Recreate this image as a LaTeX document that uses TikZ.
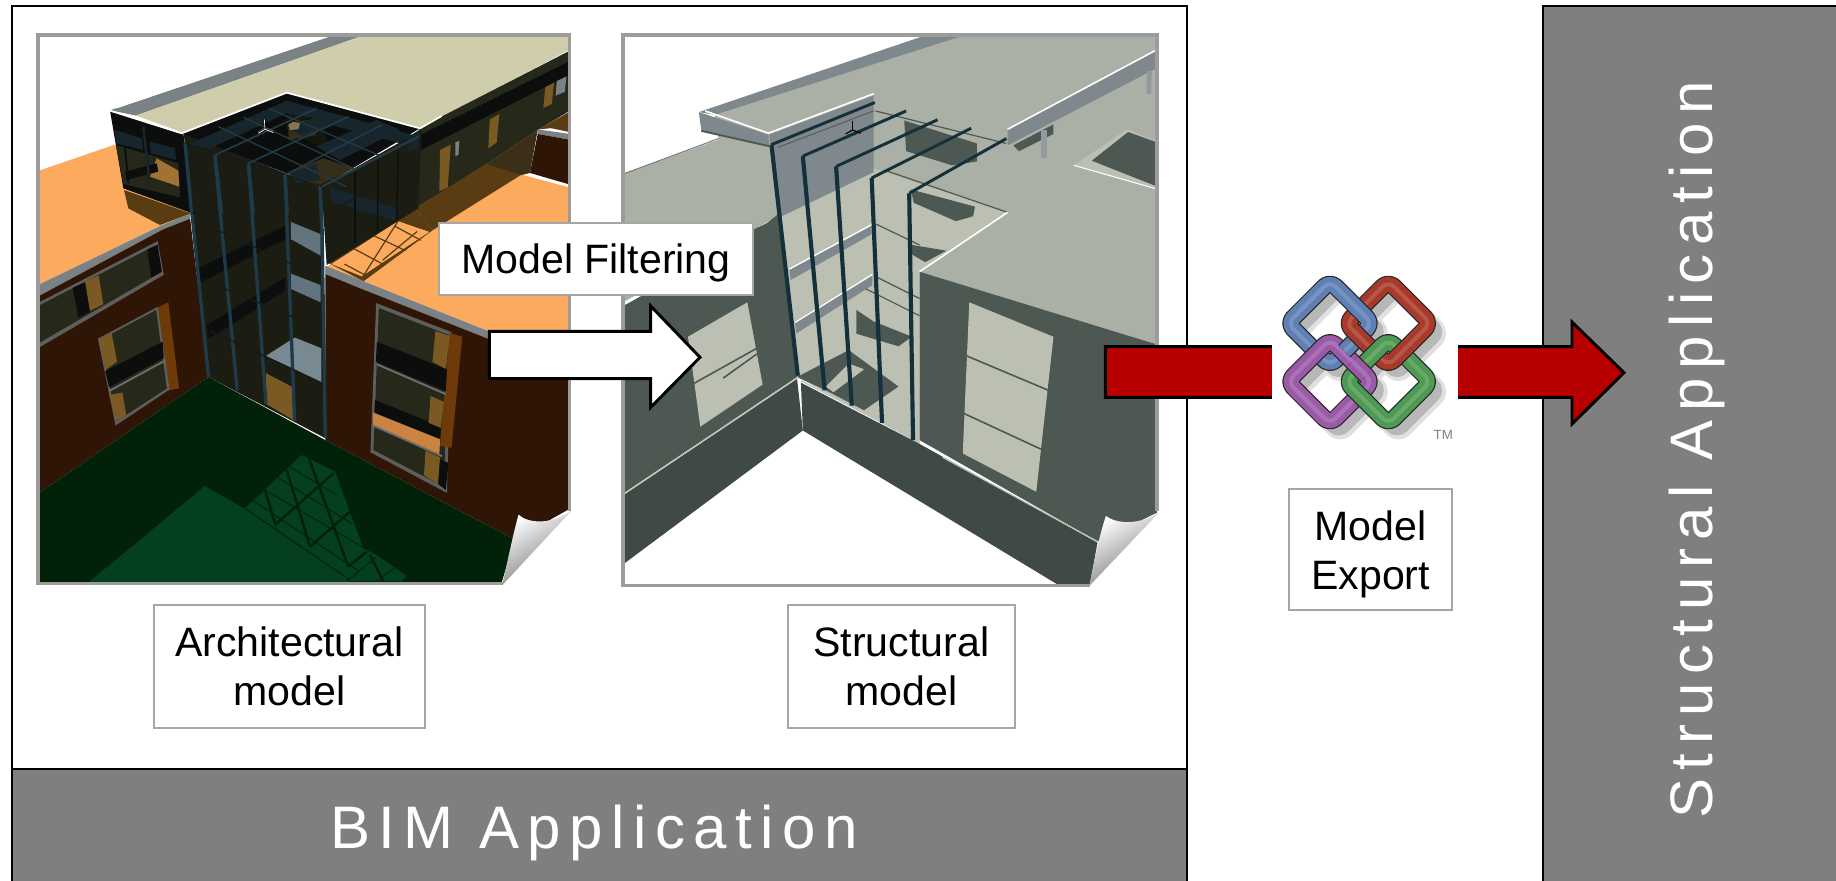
\documentclass[tikz,border=0pt]{standalone}
\usepackage{fontspec}
\setmainfont{Liberation Sans}
\newfontfamily\spacedfont[LetterSpace=14.2]{Liberation Sans}
\usetikzlibrary{calc}
\definecolor{bandgray}{HTML}{7F7F7F}
\definecolor{labelgray}{HTML}{A6A6A6}
\definecolor{picborder}{HTML}{9C9C9C}
\definecolor{arrowred}{HTML}{B80000}
% architectural
\definecolor{orangeroof}{HTML}{FBAA5E}
\definecolor{beige}{HTML}{CFCDAB}
\definecolor{brick}{HTML}{2F1506}
\definecolor{lawn}{HTML}{012208}
\definecolor{lawnlite}{HTML}{05401E}
\definecolor{parapet}{HTML}{7B8285}
\definecolor{glassdk}{HTML}{26281A}
\definecolor{tanp}{HTML}{7A5A22}
\definecolor{rust}{HTML}{6E3A08}
\definecolor{steelb}{HTML}{1F3A48}
\definecolor{blackg}{HTML}{0B0E0C}
\definecolor{shadowb}{HTML}{5A3C12}
\definecolor{tealg}{HTML}{16262C}
\definecolor{roofline}{HTML}{233A45}
% structural
\definecolor{slab}{HTML}{ABB0A6}
\definecolor{slablt}{HTML}{BBC0B2}
\definecolor{walls}{HTML}{4E5853}
\definecolor{wallsd}{HTML}{3F4A47}
\definecolor{beamg}{HTML}{7F888C}
\definecolor{colum}{HTML}{14303A}
% logo
\definecolor{ringblue}{HTML}{5F80B4}
\definecolor{ringred}{HTML}{A93A2A}
\definecolor{ringpurple}{HTML}{9B5AA8}
\definecolor{ringgreen}{HTML}{4F9A52}
\newcommand\polyf[2]{\fill[#1] plot coordinates {#2} -- cycle;}
\newcommand\ringp[2]{(#1,#2-127) -- (#1+127,#2) -- (#1,#2+127) -- (#1-127,#2) -- cycle}
\newcommand\ringd[3]{%
  \draw[line width=13pt,black!85,rounded corners=6pt,line join=round] \ringp{#1}{#2};
  \draw[line width=11.2pt,#3,rounded corners=6pt,line join=round] \ringp{#1}{#2};
  \draw[line width=3pt,#3!85!white,rounded corners=6pt,line join=round] \ringp{#1}{#2};}
\newcommand\ringfix[5]{\begin{scope}\clip (#4,#5-41) -- (#4+41,#5) -- (#4,#5+41) -- (#4-41,#5) -- cycle; \ringd{#1}{#2}{#3}\end{scope}}
\newcommand\lowered[1]{\raisebox{-3.5pt}[\height][\depth]{#1}}
\tikzset{
  lbl/.style={draw=labelgray,line width=1.5pt,fill=white,align=center,font=\fontsize{30.8}{36.75}\selectfont,inner sep=0pt},
  band/.style={fill=bandgray,draw=black,line width=1.5pt},
  bandtext/.style={text=white,font=\spacedfont\fontsize{45}{54}\selectfont,inner sep=0pt},
  picframe/.style={draw=picborder,line width=2.6pt,line join=miter},
  fatarrow/.style={draw=black,line width=2.2pt,line join=miter},
  curl/.style={top color=white,bottom color=black!55,shading angle=30},
  col/.style={draw=colum,line width=3.1pt},
  bm/.style={draw=colum,line width=2.2pt},
  grid/.style={draw=steelb,line width=2.5pt},
  gridr/.style={draw=roofline,line width=1.3pt},
  gridt/.style={draw=black!90,line width=.9pt},
  crop/.style={x=.25pt,y=-.25pt},
}
\begin{document}
\begin{tikzpicture}[x=1pt,y=1pt]
\useasboundingbox (0,0) rectangle (1377,-660.75);
\fill[white] (0,0) rectangle (1377,-660.75);
% BIM frame
\draw[black,line width=1.5pt] (9,-4.3) rectangle (890,-580);
\draw[band] (9,-577) rectangle (890,-662);
\node[bandtext] (bimapp) at (445.5,-624.5) {BIM Application};
% Structural band
\draw[band] (1157,-4.3) rectangle (1380,-662);
\node[bandtext,rotate=90] (structapp) at (1273,-337.5) {Structural Application};

% ===== Architectural picture
\begin{scope}[x=.287pt,y=-.287pt]
\begin{scope}
\clip (99,91) rectangle (1488,1525);
\polyf{white}{(99,91) (1488,91) (1488,1525) (99,1525)}
\polyf{orangeroof}{(99,447) (300,378) (480,378) (497,560) (420,590) (99,745)}
\polyf{parapet}{(99,745) (420,590) (497,558) (497,575) (425,600) (99,775)}
\polyf{brick}{(99,775) (425,600) (497,572) (545,985) (99,1290)}
% left wall windows
\polyf{picborder!60!black}{(99,792) (412,630) (428,718) (99,910)}
\polyf{glassdk}{(99,800) (405,642) (420,712) (99,898)}
\polyf{tanp}{(222,735) (258,720) (270,795) (235,812)}
\polyf{blackg}{(190,752) (222,738) (235,815) (205,830)}
\polyf{blackg}{(385,652) (412,640) (423,710) (395,725)}
\polyf{rust}{(410,805) (440,790) (468,1015) (440,1020)}
\polyf{picborder!60!black}{(256,885) (412,802) (443,1018) (302,1112)}
\polyf{glassdk}{(262,888) (408,810) (436,1015) (306,1100)}
\polyf{tanp}{(258,888) (292,872) (306,945) (278,965)}
\polyf{tanp}{(285,1032) (320,1026) (330,1085) (305,1100)}
\polyf{blackg}{(275,970) (425,893) (428,935) (285,1012)}
\draw[picborder!70!black,line width=1.4pt] (285,1022) -- (432,942);
% right roof
\polyf{orangeroof}{(850,700) (1270,430) (1370,458) (1488,490) (1488,862) (1275,865) (950,735)}
\polyf{parapet}{(850,695) (950,735) (1275,865) (1275,885) (950,757) (850,716)}
\polyf{brick}{(850,716) (950,757) (1275,885) (1488,862) (1488,1330) (1345,1410) (850,1150)}
% right wall window
\polyf{picborder!60!black}{(983,792) (1180,868) (1168,1288) (968,1182)}
\polyf{glassdk}{(990,805) (1172,875) (1160,1272) (976,1176)}
\polyf{rust}{(1175,870) (1208,880) (1180,1170) (1150,1165)}
\polyf{tanp}{(1138,865) (1175,878) (1165,965) (1130,945)}
\polyf{blackg}{(985,893) (1168,965) (1165,1022) (982,945)}
\draw[picborder!70!black,line width=1.4pt] (985,952) -- (1165,1030);
\polyf{blackg}{(980,1045) (1152,1115) (1150,1148) (978,1078)}
\polyf{tanp}{(1125,1035) (1160,1050) (1152,1118) (1120,1105)}
\polyf{orangeroof!65!rust}{(975,1078) (1150,1148) (1148,1190) (975,1110)}
\draw[picborder!70!black,line width=1.4pt] (975,1112) -- (1155,1192);
\polyf{tanp}{(1112,1178) (1150,1195) (1145,1265) (1108,1242)}
\polyf{blackg}{(1150,1200) (1172,1210) (1165,1280) (1145,1265)}
% lawn
\polyf{lawn}{(99,1290) (545,985) (850,1150) (1345,1410) (1310,1525) (99,1525)}
\polyf{lawnlite}{(228,1525) (535,1270) (640,1330) (920,1525)}
\end{scope}
% lawn lattice (crop of the lawn)
\begin{scope}[shift={(165pt,-330pt)},crop]
\clip (0,0) rectangle (600,424);
\polyf{lawnlite}{(75,205) (245,45) (345,95) (430,325) (470,345) (560,408) (545,424) (385,424)}
\draw[lawn,line width=.7pt] (75,205) -- (390,420) (100,182) -- (415,392) (135,150) -- (430,322) (165,108) -- (395,250) (205,78) -- (350,165) (470,350) -- (380,424) (520,385) -- (470,424);
\draw[lawn,line width=1.9pt] (135,150) -- (165,250) (200,90) -- (270,320) (265,50) -- (385,380) (450,345) -- (490,424) (165,255) -- (340,100) (270,320) -- (390,215) (385,380) -- (440,335);
\end{scope}
\begin{scope}
\clip (99,91) rectangle (1488,1525);
% upper block
\polyf{parapet}{(288,288) (860,96) (940,96) (355,302)}
\polyf{white}{(300,278) (845,96) (860,96) (305,283)}
\polyf{beige}{(355,302) (940,96) (1488,96) (1488,130) (1100,335) (750,243) (480,347)}
% right wing
\polyf{glassdk!60!shadowb}{(1270,430) (1405,340) (1385,452) (1360,458)}
\polyf{glassdk}{(1095,335) (1488,133) (1488,290) (1405,340) (1270,430) (1080,548)}
\polyf{blackg}{(1100,352) (1488,160) (1488,195) (1100,392)}
\polyf{tanp}{(1150,392) (1178,378) (1170,490) (1148,500)}
\polyf{tanp}{(1280,312) (1305,298) (1298,372) (1276,388)}
\polyf{tanp}{(1425,228) (1448,216) (1442,272) (1420,282)}
\polyf{parapet}{(1190,372) (1200,368) (1198,405) (1190,408)}
\polyf{parapet}{(1455,212) (1480,200) (1476,240) (1452,250)}
\polyf{shadowb}{(1408,338) (1488,292) (1488,345) (1440,335)}
\polyf{parapet}{(1405,338) (1488,350) (1488,365) (1405,350)}
\polyf{brick}{(1405,350) (1488,365) (1488,482) (1385,452)}
% roof shadow
\polyf{shadowb}{(1085,545) (1270,428) (1360,458) (1130,602)}
\polyf{shadowb}{(860,688) (1085,545) (1130,602) (950,735)}
\polyf{orangeroof}{(866,690) (1040,578) (1122,606) (945,722)}
\foreach \a/\b/\c/\d in {925/650/1000/690,975/615/1060/655,1030/590/1100/628,900/690/960/722,1040/578/950/720,1090/605/1000/680}
  \draw[shadowb,line width=.9pt] (\a,\b) -- (\c,\d);
\polyf{parapet}{(850,695) (950,735) (960,745) (850,716)}
% central atrium lower part
\polyf{glassdk!70!black}{(480,347) (840,490) (850,1145) (545,985)}
\polyf{steelb!70}{(760,580) (838,612) (838,668) (760,625)}
\polyf{steelb!70}{(760,715) (838,745) (838,790) (760,755)}
\polyf{blackg}{(520,700) (745,590) (745,625) (525,738)}
\polyf{blackg}{(540,850) (745,725) (745,760) (545,885)}
\polyf{steelb!60!white}{(695,930) (770,882) (840,910) (840,1000) (770,965)}
\polyf{tanp}{(695,975) (765,1012) (770,1100) (695,1055)}
\foreach \a/\b/\c/\d in {483/374/545/985,561/405/620/1020,649/427/695/1055,745/457/770/1100,840/488/850/1145}
  \draw[grid] (\a,\b) -- (\c,\d);
\draw[gridt] (510,449) -- (840,560) (510,575) -- (840,725) (530,730) -- (840,860) (550,865) -- (840,1000);
\end{scope}
% upper atrium (crop of the atrium)
\begin{scope}[shift={(75pt,-60pt)},crop]
% shadow under left block
\polyf{shadowb}{(72,330) (272,400) (180,435) (85,385)}
% left block
\polyf{blackg}{(30,92) (250,160) (282,402) (70,325)}
\polyf{tealg}{(45,150) (125,175) (130,210) (48,190)}
\polyf{tealg}{(150,185) (225,205) (228,240) (152,220)}
\polyf{glassdk}{(48,195) (235,250) (240,352) (70,312)}
\polyf{tanp!70!orangeroof}{(170,235) (235,272) (238,320) (150,290)}
\polyf{blackg}{(75,275) (170,250) (175,275) (80,300)}
\draw[blackg,line width=1.4pt] (75,200) -- (85,310) (140,215) -- (150,320);
\draw[tealg,line width=2pt] (130,140) -- (150,320);
% glass faces
\polyf{blackg}{(245,160) (560,38) (960,145) (665,320)}
\polyf{tealg}{(262,195) (560,62) (950,168) (900,190) (560,100) (330,205)}
\polyf{glassdk!55!black}{(560,100) (650,115) (700,220) (560,150)}
\polyf{glassdk!70!shadowb}{(565,130) (620,120) (650,165) (565,180)}
\polyf{tealg}{(560,140) (660,110) (720,130) (610,170)}
\polyf{tealg}{(650,200) (830,120) (900,150) (720,240)}
\polyf{glassdk!70!shadowb}{(560,280) (670,235) (760,265) (660,315)}
\polyf{tealg}{(570,280) (650,250) (660,300) (590,310)}
\polyf{glassdk!70!black}{(665,320) (965,150) (955,385) (680,555)}
\polyf{tealg}{(690,322) (895,385) (885,422) (695,365)}
\polyf{tealg}{(925,170) (958,150) (955,205) (925,215)}
\foreach \a/\b/\c/\d in {765/275/765/490,835/240/832/455,895/210/890/420}
  \draw[blackg,line width=.9pt] (\a,\b) -- (\c,\d);
\draw[gridt] (680,400) -- (950,255);
\draw[gridt] (255,190) -- (665,320) (290,275) -- (660,405);
\foreach \a/\b/\c/\d in {345/225/650/85,445/250/745/110,555/285/845/135}
  \draw[gridr] (\a,\b) -- (\c,\d);
\draw[gridr,line width=1.8pt] (665,320) -- (958,168);
\foreach \a/\b/\c/\d in {355/140/740/320,430/112/760/265,505/85/835/225}
  \draw[gridr,line width=1pt] (\a,\b) -- (\c,\d);
\draw[steelb,line width=2.5pt] (660,320) -- (664,420);
\draw[steelb,line width=2.5pt] (555,285) -- (562,400) (445,250) -- (460,400) (345,225) -- (365,400) (255,190) -- (275,400);
\draw[white,line width=1.3pt,line join=miter] (30,92) -- (245,160) -- (560,38) -- (960,145) -- (1025,108);
\draw[black,line width=1.5pt] (495,118) -- (497,150);
\draw[white,line width=.5pt] (493,118) -- (495,148) (475,160) -- (495,148) -- (520,158);
\draw[black!60,line width=.4pt] (475,155) -- (495,143) -- (520,153);
\polyf{tanp!60!picborder}{(565,135) (580,125) (600,130) (595,148) (570,150)}
\end{scope}
\begin{scope}[x=.287pt,y=-.287pt]
\draw[picframe] (1488,1335) -- (1488,91) -- (99.5,91) -- (99.5,1525) -- (1315,1525);
\fill[white] (1318,1545) -- (1500,1328) -- (1500,1545) -- cycle;
\shade[curl] (1355,1345) .. controls (1380,1368) and (1440,1372) .. (1493,1335) -- (1312,1530) .. controls (1330,1450) and (1340,1400) .. (1355,1345) -- cycle;
\end{scope}
\end{scope}

% ===== Structural picture
\begin{scope}[shift={(450pt,0pt)},x=.287pt,y=-.287pt]
\begin{scope}
\clip (60,92) rectangle (1455,1530);
\polyf{white}{(60,92) (1455,92) (1455,1530) (60,1530)}
\polyf{slab}{(60,455) (310,365) (300,300) (940,96) (1455,96) (1455,900) (835,710) (465,565) (60,790)}
\draw[black!55,line width=.7pt] (60,455) -- (310,362);
\polyf{walls}{(60,800) (400,612) (465,560) (515,985) (60,1290)}
\polyf{slablt}{(230,880) (385,790) (425,1005) (262,1115)}
\draw[walls,line width=1.2pt] (240,1005) -- (410,910) (322,988) -- (410,925);
\polyf{wallsd}{(60,1295) (515,990) (530,1125) (60,1475)}
\draw[slablt,line width=.9pt] (60,1292) -- (515,988);
% central bay
\polyf{slablt}{(465,565) (715,440) (1065,555) (835,710) (835,1160) (515,985)}
\polyf{beamg}{(445,375) (715,265) (715,450) (465,570)}
\polyf{walls}{(465,570) (400,600) (405,790) (430,1000) (515,985)}
\polyf{beamg}{(495,705) (710,590) (710,612) (498,732)}
\draw[white,line width=1pt] (495,703) -- (710,587) (510,843) -- (712,717);
\polyf{beamg}{(510,845) (712,720) (712,745) (512,872)}
\polyf{walls}{(795,315) (985,375) (985,422) (920,432) (800,395)}
\polyf{walls}{(812,495) (980,540) (975,565) (930,578) (820,530)}
\polyf{walls}{(815,640) (905,655) (850,685) (815,665)}
\polyf{walls}{(515,985) (650,915) (780,1010) (690,1072) (590,1020)}
\polyf{slablt}{(610,1025) (690,965) (650,950) (590,1010)}
\polyf{walls}{(670,810) (715,840) (815,880) (780,905) (670,872)}
\polyf{slablt}{(760,805) (790,810) (785,860) (760,850)}
\draw[walls,line width=.9pt] (720,290) -- (1062,375) (745,445) -- (1065,555) (720,585) -- (835,640) (715,720) -- (835,780) (695,755) -- (835,825);
\draw[white,line width=1.2pt] (1065,555) -- (835,710);
% right wall
\polyf{walls}{(835,710) (1455,900) (1455,1340) (1300,1415) (835,1150)}
\polyf{slablt}{(965,790) (1185,880) (1140,1285) (948,1185)}
\draw[walls,line width=1.2pt] (958,930) -- (1172,1020) (950,1080) -- (1155,1175);
\polyf{wallsd}{(525,1000) (835,1160) (1300,1418) (1280,1530) (1200,1530) (530,1125)}
\draw[slablt,line width=.9pt] (525,995) -- (835,1155) (895,1195) -- (1300,1415);
% parapet and overhang
\polyf{slab}{(278,292) (940,96) (715,245) (440,348)}
\polyf{beamg}{(258,293) (840,96) (940,96) (300,300)}
\polyf{beamg}{(258,293) (440,352) (442,380) (265,342)}
\draw[walls,line width=1.4pt] (265,342) -- (442,382);
\polyf{beamg}{(442,352) (715,250) (715,268) (445,378)}
\draw[white,line width=1.2pt] (275,290) -- (440,348) -- (715,245);
\draw[beamg!70!black,line width=.8pt] (465,385) -- (715,290);
% right beam
\polyf{beamg}{(1065,340) (1455,130) (1455,178) (1065,380)}
\draw[white,line width=1.2pt] (1065,338) -- (1455,130);
\fill[walls] (1080,380) -- (1185,325) -- (1185,350) -- (1095,395) -- cycle;
\draw[beamg!85!white,line width=4pt] (1160,340) -- (1160,412);
\draw[beamg!85!white,line width=3.5pt] (1436,185) -- (1434,245);
% right hole
\polyf{slablt}{(1238,432) (1378,338) (1455,370) (1455,494)}
\polyf{walls}{(1285,420) (1380,345) (1455,372) (1455,487)}
\draw[white,line width=.8pt] (1238,432) -- (1455,494);
% columns and beams
\foreach \a/\b/\c/\d in {448/378/517/982,530/408/587/1020,617/435/658/1060,710/465/737/1105,808/505/818/1150}
  \draw[col] (\a,\b) -- (\c,\d);
\foreach \a/\b/\c/\d in {448/378/718/268,530/408/800/290,617/435/882/313,710/465/970/335,808/505/1062/362}
  \draw[bm] (\a,\b) -- (\c,\d);
\draw[black,line width=1.3pt] (660,315) -- (660,340);
\draw[black,line width=.9pt] (642,350) -- (660,340) -- (682,348);
\end{scope}
\draw[picframe] (1455,1335) -- (1455,91) -- (60,91) -- (60,1530) -- (1280,1530);
\fill[white] (1285,1550) -- (1465,1338) -- (1465,1550) -- cycle;
\shade[curl] (1322,1348) .. controls (1350,1370) and (1410,1372) .. (1460,1340) -- (1278,1532) .. controls (1295,1450) and (1305,1400) .. (1322,1348) -- cycle;
\end{scope}

% white block arrow (Model Filtering)
\draw[fatarrow,fill=white] (367,-248.5) -- (488,-248.5) -- (488,-229.5) -- (525,-268) -- (488,-305.5) -- (488,-284) -- (367,-284) -- cycle;
% Model Filtering label
\node[lbl,minimum width=236pt,minimum height=54pt] (filter) at (447,-194) {\lowered{Model Filtering}};

% red arrow
\draw[fatarrow,fill=arrowred] (829,-260) -- (1179,-260) -- (1179,-241.5) -- (1218,-279.5) -- (1179,-318) -- (1179,-298) -- (829,-298) -- cycle;

% IFC logo
\begin{scope}[shift={(930pt,-180pt)},crop]
\fill[white] (96,100) rectangle (654,615);
\foreach \cx/\cy in {445/250,270/250,270/425,445/425}{
  \draw[line width=13pt,black!12,rounded corners=6pt] \ringp{\cx+30}{\cy+30};
}
\foreach \cx/\cy in {445/250,270/250,270/425,445/425}{
  \draw[line width=9pt,black!28,rounded corners=6pt] \ringp{\cx+26}{\cy+26};
}
\ringd{445}{250}{ringred}
\ringd{270}{250}{ringblue}
\ringd{270}{425}{ringpurple}
\ringd{445}{425}{ringgreen}
\ringfix{270}{250}{ringblue}{332}{312}
\ringfix{445}{250}{ringred}{357}{287}
\ringfix{445}{250}{ringred}{482}{337}
\ringfix{270}{425}{ringpurple}{357}{387}
\node[text=black!50,font=\fontsize{10}{11}\selectfont,inner sep=0pt] (tm) at (610,585) {TM};
\end{scope}

% labels
\node[lbl,minimum width=203pt,minimum height=92pt] (arch) at (217,-500) {Architectural\\model};
\node[lbl,minimum width=170pt,minimum height=92pt] (struct) at (676,-500) {Structural\\model};
\node[lbl,minimum width=122pt,minimum height=91pt] (export) at (1028,-412) {\lowered{Model}\\\lowered{Export}};
\end{tikzpicture}
\end{document}
